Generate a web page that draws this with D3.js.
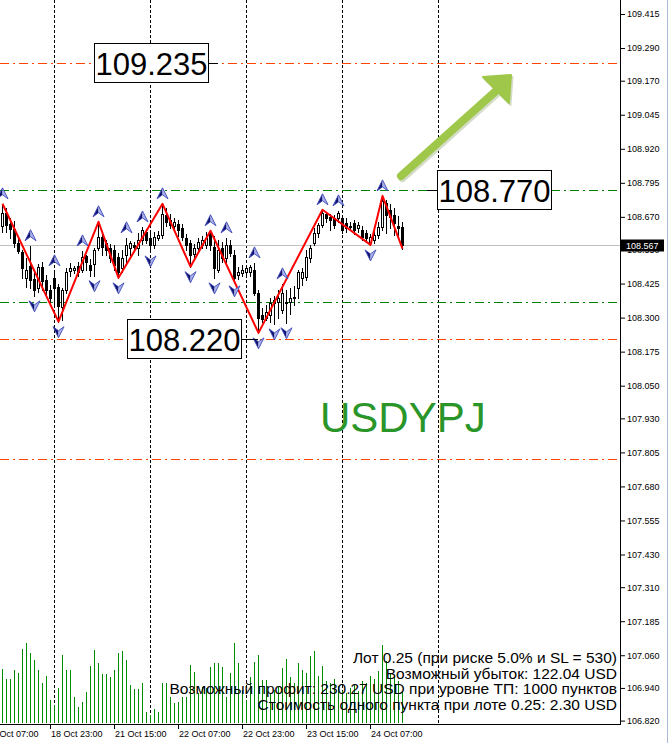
<!DOCTYPE html>
<html><head><meta charset="utf-8">
<script src="https://cdn.jsdelivr.net/npm/d3@7"></script>
<style>html,body{margin:0;padding:0;background:#fff;overflow:hidden}</style>
</head><body><svg id="c" width="669" height="743"></svg>
<script>
// ---- data (H1 USDJPY bars, index 0 = 18 Oct 11:00) ----
const opens  = [108.637,108.685,108.644,108.626,108.575,108.542,108.446,108.490,108.443,108.410,108.487,108.439,108.402,108.446,108.413,108.340,108.402,108.472,108.476,108.490,108.476,108.527,108.494,108.498,108.556,108.597,108.575,108.556,108.549,108.523,108.483,108.531,108.556,108.567,108.556,108.586,108.615,108.593,108.567,108.593,108.604,108.678,108.659,108.637,108.644,108.630,108.593,108.575,108.534,108.556,108.567,108.567,108.615,108.560,108.476,108.556,108.520,108.567,108.531,108.457,108.465,108.468,108.468,108.476,108.391,108.310,108.299,108.310,108.354,108.358,108.329,108.354,108.358,108.373,108.410,108.446,108.450,108.520,108.575,108.611,108.641,108.681,108.670,108.667,108.667,108.667,108.648,108.637,108.648,108.630,108.622,108.611,108.575,108.586,108.604,108.633,108.722,108.696,108.678,108.637,108.633];
const highs  = [108.718,108.703,108.667,108.656,108.593,108.549,108.520,108.564,108.476,108.498,108.505,108.457,108.421,108.472,108.424,108.410,108.483,108.501,108.490,108.505,108.545,108.531,108.516,108.556,108.652,108.611,108.586,108.571,108.567,108.538,108.549,108.593,108.582,108.578,108.611,108.633,108.626,108.615,108.615,108.619,108.718,108.703,108.681,108.667,108.659,108.644,108.608,108.586,108.571,108.593,108.600,108.615,108.619,108.600,108.586,108.578,108.593,108.586,108.549,108.487,108.494,108.490,108.494,108.501,108.402,108.336,108.347,108.373,108.380,108.402,108.424,108.402,108.410,108.417,108.476,108.483,108.549,108.567,108.630,108.648,108.696,108.689,108.681,108.678,108.692,108.674,108.667,108.652,108.659,108.652,108.637,108.622,108.608,108.622,108.652,108.747,108.733,108.718,108.703,108.674,108.652];
const lows   = [108.615,108.615,108.593,108.560,108.538,108.446,108.413,108.410,108.380,108.395,108.402,108.384,108.358,108.347,108.285,108.292,108.391,108.454,108.465,108.454,108.468,108.476,108.454,108.454,108.549,108.531,108.531,108.505,108.476,108.446,108.468,108.505,108.531,108.549,108.531,108.571,108.575,108.545,108.556,108.586,108.593,108.637,108.630,108.622,108.600,108.586,108.549,108.487,108.520,108.542,108.556,108.556,108.549,108.446,108.468,108.505,108.505,108.527,108.435,108.443,108.454,108.457,108.454,108.384,108.244,108.285,108.292,108.285,108.277,108.299,108.318,108.281,108.314,108.347,108.373,108.421,108.439,108.505,108.567,108.597,108.633,108.652,108.622,108.630,108.652,108.611,108.615,108.622,108.608,108.615,108.586,108.578,108.567,108.575,108.593,108.622,108.611,108.630,108.604,108.593,108.553];
const closes = [108.685,108.641,108.626,108.575,108.545,108.483,108.476,108.439,108.402,108.487,108.435,108.402,108.373,108.410,108.343,108.402,108.468,108.483,108.483,108.468,108.523,108.505,108.476,108.549,108.597,108.560,108.549,108.520,108.494,108.468,108.520,108.567,108.575,108.560,108.586,108.622,108.586,108.567,108.597,108.604,108.681,108.652,108.641,108.652,108.622,108.597,108.567,108.531,108.556,108.578,108.586,108.593,108.567,108.483,108.549,108.520,108.567,108.538,108.446,108.468,108.476,108.483,108.487,108.391,108.299,108.296,108.321,108.354,108.365,108.373,108.391,108.358,108.373,108.376,108.468,108.468,108.523,108.556,108.611,108.641,108.685,108.667,108.659,108.641,108.685,108.622,108.630,108.633,108.622,108.641,108.597,108.593,108.597,108.604,108.633,108.729,108.678,108.670,108.648,108.630,108.567];
const volumes = [540,440,440,530,500,740,800,700,630,530,400,470,230,180,350,680,530,530,260,160,210,310,570,730,600,490,490,460,530,700,720,630,380,340,340,400,110,80,140,110,400,400,260,200,210,260,260,580,510,300,360,350,560,600,600,560,260,500,800,600,330,230,460,610,680,430,430,300,330,360,550,640,460,400,600,530,500,670,720,470,570,420,400,440,370,320,300,350,380,320,420,400,470,440,520,780,620,500,460,420,320];

const zigzagIdx  = [0,14,24,29,40,47,52,64,80,92,95,100];
const zigzagType = ["h","l","h","l","h","l","h","l","h","l","h","l"];
const fractalUpIdx   = [0,7,13,20,24,31,35,40,52,56,63,70,80,84,95];
const fractalDownIdx = [8,14,23,29,37,47,53,58,64,68,71,92];

const priceTicks = [109.415,109.290,109.170,109.045,108.920,108.795,108.670,108.550,108.425,108.300,108.175,108.050,107.930,107.805,107.680,107.555,107.430,107.310,107.185,107.060,106.940,106.820];
const timeLabelIdx = [-4,12,28,44,60,76,92];
const timeLabels = ["18 Oct 07:00","18 Oct 23:00","21 Oct 15:00","22 Oct 07:00","22 Oct 23:00","23 Oct 15:00","24 Oct 07:00"];
const daySeparatorIdx = [13,37,61,85,109];

const levelPrices = [109.235,108.770,108.357,108.220,107.780];
const levelColors = ["#ff4500","#008000","#008000","#ff4500","#ff4500"];
const bidPrice = 108.567;

const labelTexts = ["109.235","108.770","108.220"];
const labelPrices = [109.235,108.770,108.220];
const infoLines = [
  "Лот 0.25 (при риске 5.0% и SL = 530)",
  "Возможный убыток: 122.04 USD",
  "Возможный профит: 230.27 USD при уровне ТП: 1000 пунктов",
  "Стоимость одного пункта при лоте 0.25: 2.30 USD"
];
const symbolText = "USDYPJ";

// ---- drawing ----
const svg = d3.select("#c");
const W = 669, H = 743, plotR = 620, plotB = 724;
const x = d3.scaleLinear().domain([0,100]).range([2,402]);
const y = d3.scaleLinear().domain([106.820,109.415]).range([720.6,14]);
const Y = v => Math.round(y(v));
const vy = d3.scaleLinear().domain([0,820]).range([723,641]);
const font = "'Liberation Sans', Arial, sans-serif";

svg.append("rect").attr("width",W).attr("height",H).attr("fill","#fff");

const plot = svg.append("g");
daySeparatorIdx.forEach(d=>{
  plot.append("line").attr("x1",x(d)+0.5).attr("x2",x(d)+0.5).attr("y1",0).attr("y2",plotB)
    .style("stroke","#000").attr("stroke-width",1).attr("stroke-dasharray","3,2");
});

levelPrices.forEach((d,i)=>{
  plot.append("line").attr("x1",0).attr("x2",plotR).attr("y1",Y(d)+0.5).attr("y2",Y(d)+0.5)
    .style("stroke",levelColors[i]).attr("stroke-width",1).attr("stroke-dasharray","9,4,2,4");
});
plot.append("line").attr("x1",0).attr("x2",plotR).attr("y1",Y(bidPrice)+0.5).attr("y2",Y(bidPrice)+0.5)
  .style("stroke","#c0c0c0").attr("stroke-width",1);

plot.selectAll("rect.vol").data(volumes).join("rect").attr("class","vol")
  .attr("x",(d,i)=>x(i)).attr("width",1)
  .attr("y",d=>Math.round(vy(d))).attr("height",d=>vy(0)-Math.round(vy(d)))
  .attr("fill","#008c00");

const idx = d3.range(opens.length);
plot.selectAll("rect.wick").data(idx).join("rect").attr("class","wick")
  .attr("x",i=>x(i)).attr("width",1)
  .attr("y",i=>Y(highs[i])).attr("height",i=>Y(lows[i])-Y(highs[i])+1).attr("fill","#000");
plot.selectAll("rect.body").data(idx).join("rect").attr("class","body")
  .each(function(i){
    const o=Y(opens[i]), c=Y(closes[i]);
    const sel=d3.select(this);
    if (closes[i] >= opens[i]) {
      sel.attr("x",x(i)-0.5).attr("y",c+0.5).attr("width",2).attr("height",Math.max(o-c,0))
        .attr("fill","#fff").attr("stroke","#000").attr("stroke-width",1);
    } else {
      sel.attr("x",x(i)-1).attr("y",o).attr("width",3).attr("height",c-o+1).attr("fill","#000");
    }
  });

const zz = zigzagIdx.map((i,k)=>[x(i)+0.5, y(zigzagType[k]==="h"?highs[i]:lows[i])]);
plot.append("path").attr("d",d3.line()(zz)).attr("fill","none").attr("stroke","#ff0000").attr("stroke-width",2).attr("stroke-linejoin","round");

function arrow(g, cx, cy, s){
  const tip=[cx, cy-6*s], l=[cx-5.5, cy+5*s], r=[cx+5.5, cy+5*s], n=[cx, cy+1*s];
  g.append("path").attr("d",d3.line()([tip,l,n])+"Z").attr("fill","#12126e");
  g.append("path").attr("d",d3.line()([tip,r,n])+"Z").attr("fill","#aab2ee");
  g.append("path").attr("d",d3.line()([tip,l,n,r])+"Z").attr("fill","none").attr("stroke","#3c4ab8").attr("stroke-width",0.9);
}
const fg = plot.append("g");
fractalUpIdx.forEach(i=>arrow(fg, x(i)+0.5, y(highs[i])-10, 1));
fractalDownIdx.forEach(i=>arrow(fg, x(i)+0.5, y(lows[i])+10, -1));

const labelBoxX = [94,437,127];
const leader = [[208,218],[427,437],[241,258]];
labelTexts.forEach((t,k)=>{
  const cy = Y(labelPrices[k])+0.5;
  svg.append("line").attr("x1",leader[k][0]).attr("x2",leader[k][1]).attr("y1",cy).attr("y2",cy).style("stroke","#000");
  svg.append("rect").attr("x",labelBoxX[k]+0.5).attr("y",cy-20).attr("width",114).attr("height",39)
    .attr("fill","#fff").style("stroke","#000");
  svg.append("text").attr("x",labelBoxX[k]+57.5).attr("y",cy+11).attr("text-anchor","middle")
    .attr("font-family",font).attr("font-size",31).attr("fill","#000").text(t);
});

svg.append("text").attr("x",320).attr("y",432).attr("font-family",font).attr("font-size",42)
  .attr("fill","#2a962a").text(symbolText);

const ag = svg.append("g");
[[1.5,2,"#d4dcc8"],[0,0,"#9fc84a"]].forEach(([dx,dy,col])=>{
  ag.append("line").attr("x1",401+dx).attr("y1",176+dy).attr("x2",497+dx).attr("y2",90+dy)
    .style("stroke",col).attr("stroke-width",8).attr("stroke-linecap","round");
  ag.append("path").attr("d",d3.line()([[483+dx,77+dy],[511+dx,75+dy],[509+dx,103+dy]])+"Z")
    .attr("fill",col).style("stroke",col).attr("stroke-width",2).attr("stroke-linejoin","round");
});

infoLines.forEach((t,k)=>{
  svg.append("text").attr("x",617).attr("y",663+k*15.5).attr("text-anchor","end")
    .attr("font-family",font).attr("font-size",15.5).attr("fill","#000").text(t);
});

svg.append("line").attr("x1",plotR+0.5).attr("x2",plotR+0.5).attr("y1",0).attr("y2",plotB+1).style("stroke","#000");
svg.append("line").attr("x1",0).attr("x2",plotR+1).attr("y1",plotB+0.5).attr("y2",plotB+0.5).style("stroke","#000");
svg.append("line").attr("x1",667.5).attr("x2",667.5).attr("y1",0).attr("y2",H).style("stroke","#a8bcd8");

const ax = svg.append("g").attr("transform",`translate(${plotR+1},0)`)
  .call(d3.axisRight(y).tickValues(priceTicks).tickSize(4).tickPadding(2).tickFormat(d3.format(".3f")));
ax.select(".domain").remove();
ax.selectAll("text").attr("font-family",font).attr("font-size",9).attr("fill","#000");
ax.selectAll(".tick line").style("stroke","#000");

const by = Y(bidPrice)+0.5;
svg.append("rect").attr("x",621).attr("y",by-6).attr("width",43).attr("height",12).attr("fill","#000");
svg.append("text").attr("x",626).attr("y",by+3.5).attr("font-family",font).attr("font-size",9).attr("fill","#fff").text(bidPrice.toFixed(3));

const bx = svg.append("g");
timeLabelIdx.forEach((i,k)=>{
  bx.append("line").attr("x1",x(i)+0.5).attr("x2",x(i)+0.5).attr("y1",plotB+1).attr("y2",plotB+5).style("stroke","#000");
  bx.append("text").attr("x",x(i)+1).attr("y",737).attr("font-family",font).attr("font-size",9).attr("fill","#000").text(timeLabels[k]);
});
</script></body></html>
